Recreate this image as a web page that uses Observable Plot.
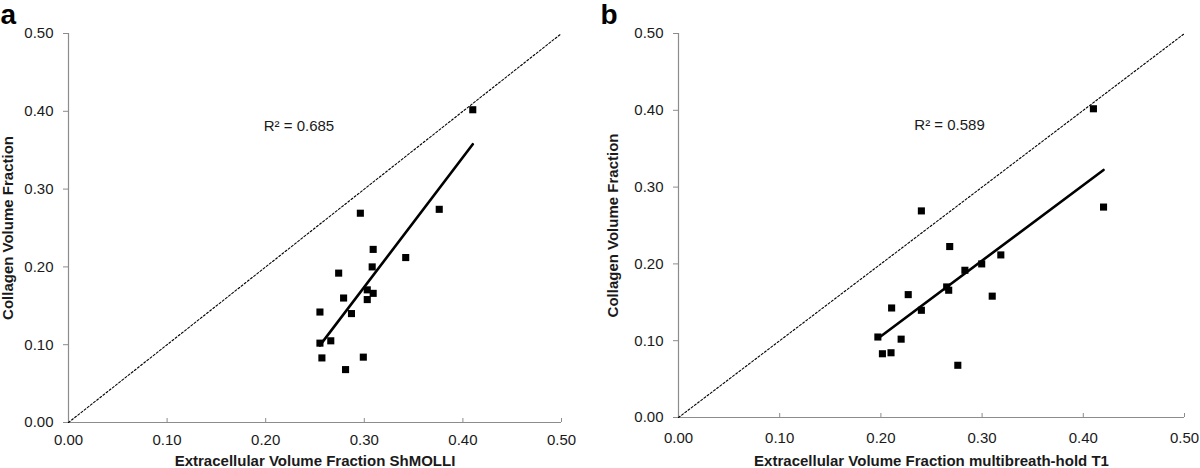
<!DOCTYPE html>
<html>
<head>
<meta charset="utf-8">
<script src="https://cdn.jsdelivr.net/npm/d3@7"></script>
<script src="https://cdn.jsdelivr.net/npm/@observablehq/plot@0.6"></script>
<style>
  html, body { margin: 0; padding: 0; background: #fff; }
  #wrap { display: flex; width: 1200px; height: 468px; }
  #wrap > svg, #wrap > figure { margin: 0; }
</style>
</head>
<body>
<div id="wrap"></div>
<script>
// Panel a: ECV by ShMOLLI vs collagen volume fraction
const ecvShmolli = [0.410, 0.376, 0.296, 0.309, 0.342, 0.308, 0.274, 0.303, 0.309, 0.279, 0.303, 0.255, 0.287, 0.266, 0.255, 0.257, 0.299, 0.281];
const cvfA       = [0.402, 0.274, 0.269, 0.2225, 0.212, 0.200, 0.192, 0.1705, 0.166, 0.160, 0.158, 0.142, 0.140, 0.105, 0.102, 0.083, 0.084, 0.068];
// Panel b: ECV by multibreath-hold T1 vs collagen volume fraction
const ecvMbh     = [0.410, 0.420, 0.240, 0.268, 0.3185, 0.2996, 0.283, 0.265, 0.267, 0.227, 0.310, 0.2106, 0.240, 0.197, 0.220, 0.2015, 0.210, 0.276];
const cvfB       = [0.402, 0.274, 0.269, 0.2226, 0.2117, 0.200, 0.1917, 0.170, 0.1657, 0.160, 0.158, 0.1426, 0.1396, 0.1048, 0.102, 0.083, 0.0843, 0.068];

const tickValues = [0, 0.1, 0.2, 0.3, 0.4, 0.5];
const identityLine = [0, 0.5];
const yTitle = "Collagen Volume Fraction";
const xTitleA = "Extracellular Volume Fraction ShMOLLI";
const xTitleB = "Extracellular Volume Fraction multibreath-hold T1";
const r2A = "R² = 0.685";
const r2B = "R² = 0.589";
const r2PosA = [0.198, 0.381];
const r2PosB = [0.233, 0.381];

const fmt = d3.format(".2f");
const FONT = "'Liberation Sans', Arial, Helvetica, sans-serif";
const FS = 15;

function panel({xs, ys, letter, xTitle, r2, r2Pos, ml, mr, mt, mb, yTitleDx, xTitleDy, xLabDy}) {
  const data = xs.map((x, i) => ({x, y: ys[i]}));
  const diag = identityLine.map(v => ({x: v, y: v}));
  return Plot.plot({
    width: 600,
    height: 468,
    marginLeft: ml,
    marginRight: mr,
    marginTop: mt,
    marginBottom: mb,
    style: {fontFamily: FONT, fontSize: "15px", color: "#1a1a1a", background: "#fff", overflow: "visible"},
    x: {domain: [0, 0.5]},
    y: {domain: [0, 0.5]},
    marks: [
      Plot.ruleX([0], {stroke: "#8c8c8c", strokeWidth: 1.2}),
      Plot.ruleY([0], {stroke: "#8c8c8c", strokeWidth: 1.2}),
      Plot.axisY({ticks: tickValues, tickFormat: () => "", tickSize: 5, stroke: "#8c8c8c", label: null}),
      Plot.axisX({ticks: tickValues, tickFormat: () => "", tickSize: 4, dy: -4, stroke: "#8c8c8c", label: null}),
      // tick labels
      Plot.text(tickValues, {y: d => d, text: fmt, frameAnchor: "left", dx: -15, textAnchor: "end", lineAnchor: "middle", fontSize: FS, fill: "#1a1a1a"}),
      Plot.text(tickValues, {x: d => d, text: fmt, frameAnchor: "bottom", dy: xLabDy, textAnchor: "middle", lineAnchor: "top", fontSize: FS, fill: "#1a1a1a"}),
      Plot.line(diag, {x: "x", y: "y", stroke: "#000", strokeWidth: 1.1, strokeDasharray: "2,2"}),
      Plot.linearRegressionY(data, {x: "x", y: "y", ci: 0, stroke: "#000", strokeWidth: 2.6}),
      Plot.dot(data, {x: "x", y: "y", symbol: "square", fill: "#000", stroke: "none", r: 4}),
      Plot.text([r2], {x: () => r2Pos[0], y: () => r2Pos[1], textAnchor: "start", fontSize: FS, fill: "#1a1a1a"}),
      Plot.text([letter], {frameAnchor: "top-left", dx: -ml, dy: -mt + 23, textAnchor: "start", lineAnchor: "bottom", fontSize: 28, fontWeight: "bold", fill: "#000"}),
      Plot.text([yTitle], {frameAnchor: "left", dx: yTitleDx, rotate: -90, textAnchor: "middle", lineAnchor: "middle", fontSize: FS, fontWeight: "bold", fill: "#1a1a1a"}),
      Plot.text([xTitle], {frameAnchor: "bottom", dy: xTitleDy, textAnchor: "middle", lineAnchor: "middle", fontSize: FS, fontWeight: "bold", fill: "#1a1a1a"})
    ]
  });
}

const wrap = document.getElementById("wrap");
wrap.append(panel({xs: ecvShmolli, ys: cvfA, letter: "a", xTitle: xTitleA, r2: r2A, r2Pos: r2PosA,
  ml: 68, mr: 39, mt: 33, mb: 46, yTitleDx: -60, xTitleDy: 39, xLabDy: 12}));
wrap.append(panel({xs: ecvMbh, ys: cvfB, letter: "b", xTitle: xTitleB, r2: r2B, r2Pos: r2PosB,
  ml: 78, mr: 16, mt: 33, mb: 51, yTitleDx: -65, xTitleDy: 44, xLabDy: 15}));
</script>
</body>
</html>
